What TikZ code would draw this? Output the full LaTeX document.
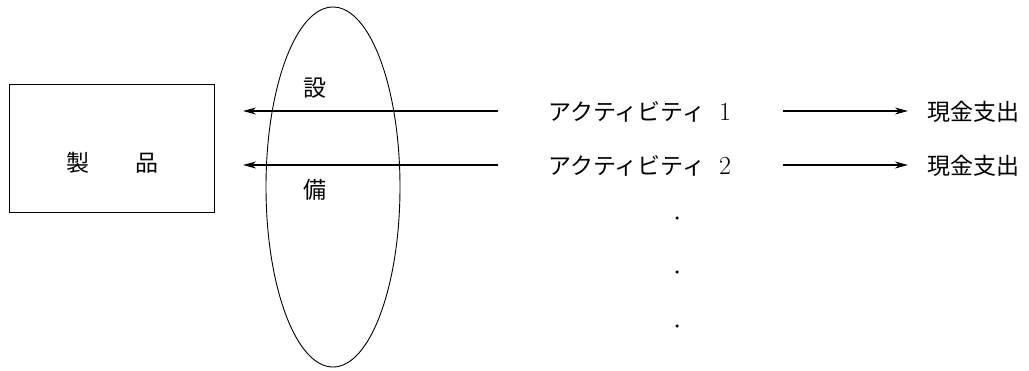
\documentclass[tikz,border=0pt]{standalone}
\usepackage{fontspec}
\newfontfamily\cjk{Noto Sans CJK JP}
\usetikzlibrary{arrows.meta,shapes.geometric}
\begin{document}
\begin{tikzpicture}[x=1pt,y=-1pt,
  lbl/.style={font=\cjk\fontsize{23}{26}\selectfont, inner sep=0pt, anchor=west},
  conn/.style={line width=1.1pt, -{Stealth[length=13pt,width=7pt]}},
  dotm/.style={circle, fill=black, inner sep=0pt, minimum size=3.5pt}]
\useasboundingbox (0,0) rectangle (1029,370);
% product box
\node[draw, line width=1pt, minimum width=205pt, minimum height=128pt, inner sep=0pt] (prod) at (111.5,148) {};
\node[lbl, anchor=center] (prodt) at (112,163) {製\hspace{2em}品};
% ellipse
\node[draw, line width=0.9pt, ellipse, minimum width=134pt, minimum height=360pt, inner sep=0pt] (eq) at (333,187) {};
\node[lbl, anchor=center] (s1) at (315,88) {設};
\node[lbl, anchor=center] (s2) at (315,190) {備};
% activities
\node[lbl] (a1) at (548,112) {アクティビティ\hspace{0.6em}{\rmfamily\fontsize{26}{26}\selectfont 1}};
\node[lbl] (a2) at (548,166) {アクティビティ\hspace{0.6em}{\rmfamily\fontsize{26}{26}\selectfont 2}};
\node[lbl] (c1) at (927,112) {現金支出};
\node[lbl] (c2) at (927,166) {現金支出};
% coordinates
\coordinate (l1s) at (498,111);
\coordinate (l1e) at (243,111);
\coordinate (l2s) at (498,165);
\coordinate (l2e) at (243,165);
\coordinate (r1s) at (783,111);
\coordinate (r1e) at (908,111);
\coordinate (r2s) at (783,165);
\coordinate (r2e) at (908,165);
\draw[conn] (l1s) -- (l1e);
\draw[conn] (l2s) -- (l2e);
\draw[conn] (r1s) -- (r1e);
\draw[conn] (r2s) -- (r2e);
% dots
\node[dotm] (d1) at (677,218) {};
\node[dotm] (d2) at (677,272) {};
\node[dotm] (d3) at (677,326) {};
\end{tikzpicture}
\end{document}
